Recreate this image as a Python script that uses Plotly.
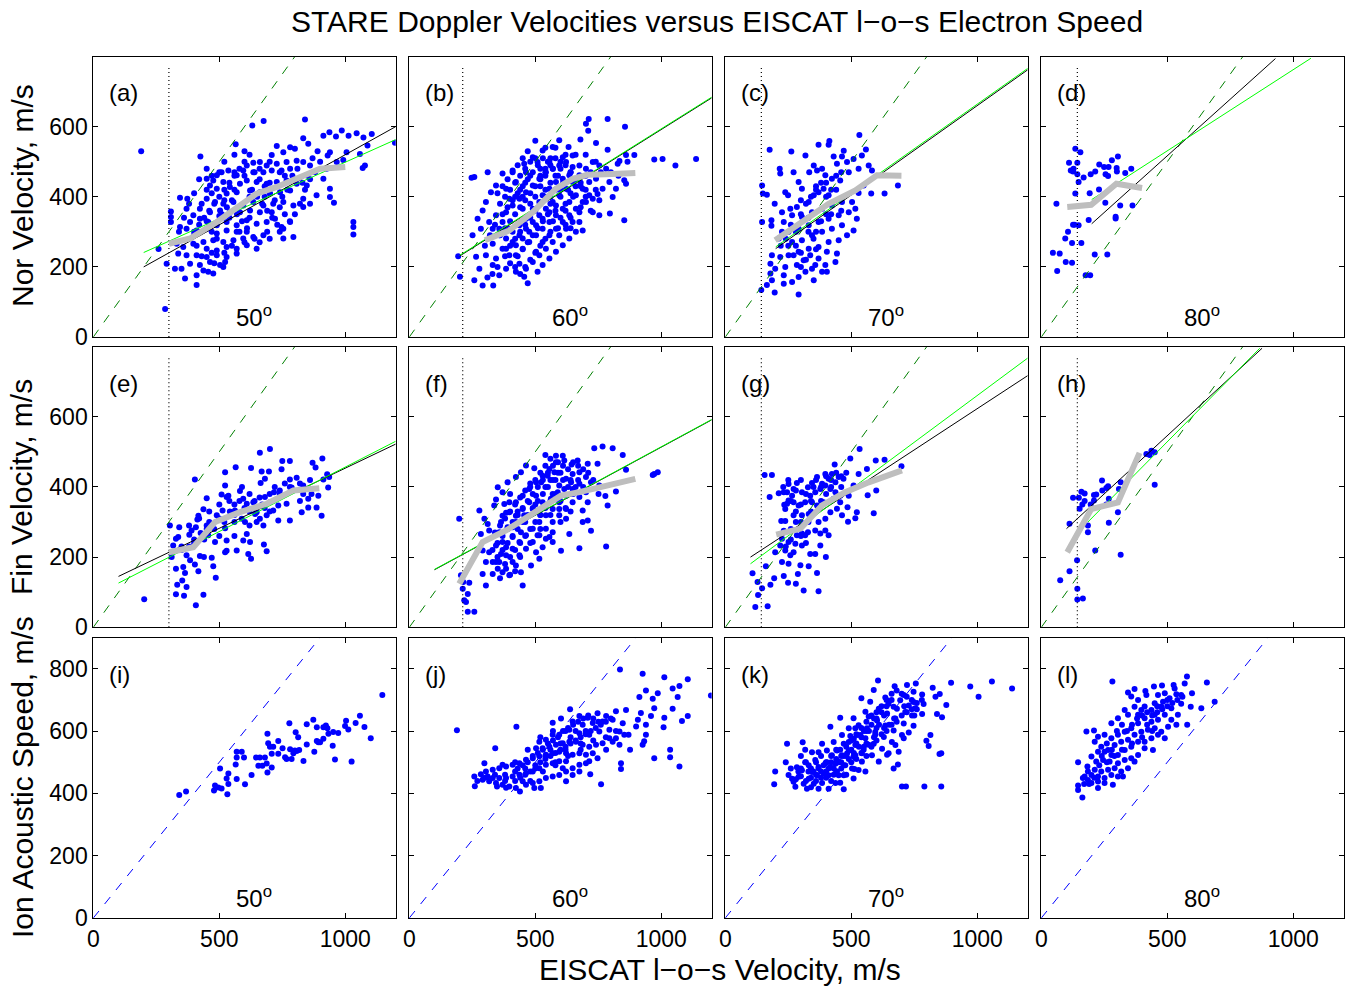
import plotly.graph_objects as go

# ---------------- data ----------------
angles = ["50", "60", "70", "80"]
labels = ["a", "b", "c", "d", "e", "f", "g", "h", "i", "j", "k", "l"]
v_threshold = [300, 212, 143, 143]   # dotted vertical lines per column

pts_a = [(190,530),(285,80),(1197,554),(840,620),(631,603),(676,616),(565,550),(425,515),(1032,328),(1032,314),(1032,292),
 (410,148),(259,251),(291,209),(308,358),(308,342),(308,328),(344,397),(373,394),
 (913,574),(937,584),(963,572),(986,589),(1013,574),(1045,581),(1072,569),(1105,579),(1088,546),(1058,522),(1078,489),(1069,482),
 (1005,527),(992,505),(966,499),(939,527),(930,518),(926,480),(913,451),(939,423),(939,399),(955,383),(886,404),(860,380),(833,394),
 (853,551),(833,567),(800,537),(781,541),(754,527),(728,545),(708,519),
 (609,489),(635,497),(661,499),(688,489),(728,494),(767,499),(807,503),(833,499),(860,489),(781,480),(747,475),(708,475),(675,470),
 (635,470),(595,475),(569,461),(536,475),(509,470),(490,461),
 (516,442),(542,428),(582,437),(609,446),(648,442),(688,437),(728,442),(767,446),(807,437),(847,432),(781,418),(741,413),(701,409),
 (661,413),(622,418),(569,413),(529,409),(490,423),(463,432),(450,451),(476,446),
 (450,394),(483,385),(516,380),(556,385),(595,375),(635,385),(675,375),(714,380),(754,385),(794,375),(833,371),(708,356),(661,356),
 (622,361),(582,356),(542,356),(503,361),(463,356),(423,366),(397,347),(370,366),
 (384,328),(423,337),(456,328),(490,319),(529,328),(569,319),(609,333),(648,323),(688,328),(721,337),(754,309),(781,328),(609,300),
 (569,300),(529,304),(490,295),(450,309),(410,304),(370,309),(344,314),
 (331,266),(357,257),(397,266),(437,271),(476,276),(516,271),(556,276),(595,281),(635,285),(675,290),(747,314),(794,285),(450,252),
 (490,247),(529,257),(569,252),(609,262),(648,252),(754,281),
 (337,238),(370,233),(410,233),(450,228),(490,233),(529,228),(569,238),(384,209),(423,205),(463,214),(503,205),(523,214),(324,195),
 (350,195),(364,167),(437,190),(456,186),(476,181),(516,200),(410,176),
 (560,420),(600,460),(620,400),(700,440),(740,470),(680,400),(520,390),(470,410),(560,470),(660,480),(700,500),(760,460),(580,300),
 (540,340),(620,340),(500,345),(450,420),(420,300),(400,290),(470,240),(640,280),(690,300),
 (400,300),(420,320),(440,340),(460,360),(480,380),(500,400),(520,420),(540,440),(560,460),(580,480),(600,500),(620,520),(640,470),
 (660,450),(680,430),(700,410),(720,390),(740,370),(760,350),(780,330),(800,350),(820,380),(840,420),(860,450),(880,470),(900,500),
 (430,380),(450,330),(470,300),(490,280),(510,350),(530,370),(550,390),(570,350),(590,330),(610,310),(630,420),(650,400),(670,380),
 (690,360),(710,340),(730,320),(750,400),(770,420),(790,460),(810,480),(830,440),(850,460),(870,510),(890,530),(410,260),(430,230),
 (480,210),(520,240),(550,260),(600,270),(660,270),(700,280),(740,300),(520,500),(560,520),(600,530),(470,460),(500,470),(450,480),
 (420,450),(400,410),(380,380),(360,340),(340,300)]

pts_b = [(194,230),(201,172),(247,454),(258,456),
 (712,622),(787,622),(701,608),(710,588),(856,600),(679,563),(741,553),(787,534),(860,519),(893,519),(972,506),(1005,508),(1056,489),
 (1138,508),(866,500),(834,502),(827,494),(853,447),(860,437),(807,399),(796,352),(853,333),(754,390),(747,408),
 (311,470),(370,466),(410,475),(456,494),(490,513),(529,532),(569,542),(595,561),(632,542),(648,518),(609,513),(556,499),(509,499),
 (463,470),(423,442),(384,423),(344,432),(324,413),(304,385),(291,361),(271,337),(284,309),(251,290),(265,229),(278,195),(258,162),
 (291,147),(333,147),(357,176),(331,205),(304,233),(344,224),(384,195),(423,186),(456,172),(470,153),(437,209),(397,233),(370,252),
 (331,266),(357,290),
 (384,356),(410,375),(437,394),(463,413),(490,432),(516,451),(542,470),(569,480),(595,489),(622,499),(648,485),(675,489),(701,480),
 (728,499),(754,489),(781,480),(675,461),(648,442),(622,423),(595,404),(569,385),(542,366),(516,347),(490,328),(463,309),(437,290),
 (410,271),(384,252),(423,233),(450,252),(476,271),(503,290),(529,309),(556,328),(582,347),(609,366),(635,385),(661,404),(688,423),
 (714,442),(741,451),(701,385),(675,356),(648,328),(622,309),(595,290),(569,271),(542,252),(516,233),(490,214),(463,195),(503,243),
 (529,271),(556,290),(582,309),(609,328),(635,347),(661,366),(688,385),(714,404),(582,375),(556,356),(529,337),(503,319),(476,300),
 (450,281),(423,262),(397,309),(370,328),(344,347),(317,328),(331,309),(397,394),(450,366),(476,347),(529,404),(556,423),(582,442),
 (609,451),(635,461),(516,385),(490,366),(463,337),(437,319),(410,300),(384,281),(357,309),(675,328),(688,304),(661,300),(635,281),
 (609,262),(582,243),(556,224),(529,205),(509,186),(728,356),(754,347),(767,423),(794,442),(820,423),(728,394),
 (600,420),(620,440),(640,410),(560,400),(580,460),(520,430),(540,480),(500,400),(480,380),(460,440),(440,420),(420,400),(640,470),
 (660,430),(700,460),(620,380),(560,510),(520,460),(480,460),(450,400),(600,480),(680,440),(720,470),(540,420),
 (360,290),(380,310),(400,330),(420,350),(440,370),(460,390),(480,410),(500,430),(520,450),(540,470),(560,490),(580,510),(600,500),
 (620,490),(640,470),(660,450),(680,430),(700,420),(370,350),(390,370),(410,390),(430,410),(450,430),(470,450),(490,470),(510,490),
 (530,510),(550,500),(570,480),(590,460),(610,440),(630,420),(650,400),(360,380),(380,400),(400,420),(420,440),(440,460),(460,480),
 (480,500),(500,510),(520,480),(540,460),(560,440),(580,420),(600,400),(620,360),(640,340),(400,260),(420,280),(440,300),(460,320),
 (480,340),(500,360),(520,380),(540,400),(560,380),(580,360),(600,340),(620,320),(640,310),(430,230),(450,250),(470,270),(490,290),
 (510,310),(530,330),(550,350),(570,330),(590,310),(560,300),(540,280),(520,260),(500,240),(480,220),(460,200),(440,180),(420,200),
 (400,210),(380,230),(350,200),(330,180),(310,170),(300,260),(320,290),(340,320),(350,410),(370,430),(390,450),(410,470),(430,490),
 (450,510),(470,530),(500,560),(540,540),(580,540),(620,520),(660,520),(700,520),(740,500),(760,470),(800,470),(830,460),(700,400),
 (740,420),(680,370),(720,360)]

pts_c = [(143,134),(196,127),(291,121),(146,328),(183,333),(183,317),(146,432),(149,409),(165,406),(176,534),(216,480),(218,466),
 (262,529),(196,380),(238,413),(249,404),(271,470),(291,442),(304,423),(318,518),(333,470),(351,489),(370,548),(413,559),(410,548),
 (430,515),(463,515),(470,531),(532,576),(558,535),(542,518),(509,508),(483,499),(443,494),(384,480),(364,475),(397,461),(423,451),
 (456,446),(490,470),(529,480),(569,489),(582,475),(549,432),(579,409),(529,411),(632,409),(685,432),(370,413),(390,423),(410,404),
 (351,404),(331,385),(284,371),(258,366),(225,356),(265,347),(304,342),(344,356),(384,366),(423,375),(463,385),(503,385),(516,366),
 (490,356),(450,347),(410,337),(370,328),(331,319),(291,309),(251,300),(232,328),(225,300),(212,281),(265,271),(304,276),(344,290),
 (384,300),(423,309),(463,319),(483,290),(509,304),(522,337),(450,276),(410,271),(370,257),(331,252),(291,243),(251,233),(218,228),
 (185,233),(179,209),(198,195),(179,181),(185,162),(165,148),(232,176),(238,200),(271,233),(284,205),(311,219),(337,233),(370,224),
 (397,205),(437,214),(443,238),(403,243),(357,205),(384,186),(344,195),(318,186),(291,171),(265,157),(232,152),(351,162),(403,186),
 (360,430),(400,440),(330,300),(300,390),(440,420),(280,260),(360,250),(420,350),(460,360),(250,260),(300,200),(350,280),
 (300,350),(320,380),(340,400),(360,420),(380,440),(400,400),(420,420),(440,460),(460,470),(330,340),(280,300),(260,320),(240,280),
 (220,260),(300,240),(320,220),(360,300),(380,330),(400,350),(420,380)]

pts_d = [(60,380),(46,240),(73,238),(63,188),(97,214),(122,212),(95,281),(106,300),(122,268),(126,320),(132,320),(148,319),(159,268),
 (135,409),(148,442),(135,537),(155,527),(110,497),(117,475),(128,480),(143,497),(143,464),(126,472),(168,455),(176,176),(194,176),
 (188,334),(212,235),(262,235),(192,410),(229,421),(254,383),(295,343),(295,338),(313,375),(362,375),(196,464),(214,472),(230,492),
 (249,485),(267,485),(255,464),(265,459),(280,504),(299,482),(304,515),(300,472),(333,468),(357,480)]

pts_e = [(202,80),(407,63),(437,93),(328,94),(360,90),(333,121),(370,115),(353,133),(364,155),(328,167),(357,172),(403,179),(417,160),
 (486,141),(476,174),(470,198),(439,200),(423,203),(384,191),(370,205),(311,200),(317,233),(304,290),(341,285),(328,252),(337,257),
 (381,264),(390,276),(407,285),(413,307),(437,336),(450,368),(403,421),(417,318),(426,269),(456,262),(483,243),(450,290),(490,319),
 (523,282),(529,247),(523,214),(529,218),(569,219),(560,260),(595,247),(615,209),(626,195),(622,243),(565,456),(626,454),(523,442),
 (523,404),(509,378),(536,375),(529,371),(542,330),(513,333),(562,333),(582,388),(595,366),(609,352),(635,356),(642,323),(648,300),
 (661,309),(675,290),(688,319),(701,356),(717,385),(681,371),(664,411),(668,444),(681,423),(697,444),(661,497),(701,508),(750,474),
 (780,474),(747,450),(780,421),(807,426),(787,398),(767,352),(734,347),(714,333),(734,304),(780,304),(827,328),(853,341),(870,469),
 (882,455),(913,421),(928,436),(936,428),(909,481),(932,398),(906,318),(886,341),(866,380),(893,375),(853,366),(833,404),(833,380),
 (677,236),(688,217),(609,266),(602,300),(589,309),(648,328),
 (560,300),(600,340),(640,360),(700,330),(740,380),(620,290),(480,280),(520,300),(440,250),(380,230),(560,350),(670,350),(720,400),
 (760,410),(820,360),(350,230),(400,250),(460,300),(500,260),(590,400),
 (500,350),(540,360),(580,360),(620,380),(660,370),(700,380),(740,390),(780,400),(820,410),(860,420),(460,330),(420,310),(380,290),
 (560,320),(620,330),(680,340),(500,310),(450,280),(400,240),(350,220)]

pts_f = [(198,309),(205,148),(212,110),(218,77),(232,44),(258,44),(232,95),(238,127),(214,129),(225,72),
 (734,510),(767,515),(807,510),(847,491),(860,449),(966,434),(986,442),(972,437),(781,230),(751,380),(787,347),(820,387),(778,374),
 (754,404),
 (540,491),(582,489),(609,489),(615,475),(644,464),(668,475),(708,466),(747,466),(496,453),(463,461),(443,442),(390,413),(423,428),
 (351,399),(370,385),(344,364),(337,347),(278,333),(298,309),(311,294),(284,266),(317,276),(291,219),(304,186),(291,152),(304,119),
 (331,152),(344,186),(364,209),(384,228),(410,257),(370,243),(357,271),(390,285),(423,300),(456,319),(490,337),(529,356),(569,380),
 (595,404),(622,423),(648,437),(675,442),(701,428),(721,413),(675,409),(648,394),(622,375),(595,356),(569,337),(542,319),(516,300),
 (490,281),(463,262),(437,243),(410,224),(384,205),(357,186),(384,167),(410,186),(437,205),(463,224),(490,243),(516,262),(542,281),
 (569,300),(595,319),(622,337),(648,356),(675,371),(701,385),(708,356),(688,333),(708,304),(721,275),(688,300),(635,266),(675,225),
 (602,218),(569,243),(556,257),(529,228),(516,195),(503,214),(483,176),(450,119),(443,157),(423,176),(397,148),(370,157),(351,167),
 (331,186),(317,214),(344,233),(423,356),(450,375),(476,394),(503,413),(529,432),(556,451),(582,470),(503,375),(476,356),(450,337),
 (423,318),(397,328),(370,318),(523,413),(549,432),(576,442),(562,366),(589,385),(615,394),(642,413),(595,337),(622,309),(569,271),
 (542,252),(509,262),(443,271),(410,285),(364,300),(384,326),(397,356),(377,351),
 (480,400),(500,350),(540,400),(560,420),(460,300),(430,330),(400,380),(520,320),(580,420),(640,420),(660,400),(600,440),
 (330,220),(350,240),(370,260),(390,280),(410,300),(430,320),(450,340),(470,360),(490,380),(510,400),(530,420),(550,440),(570,460),
 (590,470),(610,460),(630,450),(650,470),(670,460),(690,450),(340,270),(360,290),(380,310),(400,330),(420,350),(440,370),(460,390),
 (480,410),(500,420),(520,440),(540,460),(560,480),(350,200),(370,220),(390,240),(410,260),(430,280),(450,300),(470,320),(490,340),
 (510,360),(530,380),(550,400),(570,420),(590,440),(610,420),(630,400),(650,380),(670,420),(690,400),(710,440),(730,420),(380,180),
 (400,200),(420,220),(440,240),(460,260),(480,280),(500,300),(520,320),(540,340),(560,360),(580,380),(600,360),(620,340),(640,330),
 (600,300),(560,320),(520,280),(480,240),(440,200),(420,160),(400,150),(360,140)]

pts_g = [(119,58),(168,60),(130,92),(146,111),(128,129),(108,154),(161,174),(179,121),(194,140),(232,146),(249,127),(280,124),
 (311,105),(370,103),(364,155),(331,174),(298,177),(288,152),(251,181),(225,186),(258,205),(271,214),(238,219),(198,214),(218,233),
 (225,252),(251,243),(278,238),(304,233),(317,262),(337,209),(357,209),(377,233),(399,200),(357,276),(328,271),(304,267),(284,262),
 (232,275),(222,303),(238,303),(271,319),(304,319),(331,323),(370,300),(397,276),(410,262),(377,267),(397,309),(417,328),(443,338),
 (463,319),(487,301),(516,311),(522,328),(589,325),(485,342),(456,356),(430,366),(390,356),(364,347),(344,356),(317,356),(291,347),
 (271,356),(245,352),(238,337),(265,375),(245,385),(271,394),(251,408),(284,411),(304,385),(328,399),(337,375),(357,385),(377,394),
 (397,404),(417,394),(437,385),(456,375),(490,375),(509,404),(437,413),(410,423),(384,409),(364,428),(344,411),(397,437),(423,437),
 (434,464),(450,428),(469,423),(496,481),(533,508),(529,437),(562,451),(597,475),(632,477),(599,390),(565,376),(699,459),(156,434),
 (185,434),(176,371),(212,382),(232,385),(234,349),(251,361),
 (300,300),(340,330),(380,360),(420,400),(260,280),(320,240),(280,330),(350,400),(400,380),(460,400),
 (320,380),(360,420),(400,430),(440,440),(480,440),(300,350),(340,360),(380,400),(420,420),(460,430),(280,300),(260,250),(240,230),
 (300,260),(330,300),(280,390),(250,420),(230,400),(260,360),(300,420)]

pts_h = [(75,134),(112,160),(142,191),(143,110),(143,79),(165,82),(214,219),(315,207),(112,295),(185,290),(185,271),(268,298),
 (304,328),(126,369),(149,369),(159,386),(172,381),(152,338),(163,350),(172,360),(196,350),(209,361),(209,377),(218,378),(242,390),
 (258,397),(265,402),(241,418),(268,366),(258,350),(308,394),(315,413),(417,494),(430,491),(437,503),(450,499),(450,406)]

pts_i = [(341,395),(368,406),(503,480),(483,425),(479,409),(496,419),(509,416),(529,448),(536,464),(536,430),(532,397),(569,446),
 (602,429),(565,493),(569,515),(569,534),(589,534),(598,515),(628,459),(646,515),(661,515),(681,515),(655,489),(671,489),(688,496),
 (691,467),(708,483),(708,527),(701,550),(694,561),(691,591),(714,550),(734,568),(734,527),(751,545),(761,516),(767,510),(781,542),
 (787,510),(794,529),(800,538),(807,536),(817,539),(778,625),(803,596),(813,580),(834,504),(847,557),(847,622),(877,534),(887,568),
 (893,564),(900,564),(873,636),(887,612),(913,612),(923,618),(929,609),(933,591),(913,575),(950,553),(952,597),(972,594),(959,509),
 (999,616),(1012,605),(1003,633),(1025,502),(1041,626),(1058,649),(1076,613),(1101,577),(1147,716)]

pts_j = [(189,603),(425,614),(341,545),(836,798),(926,784),(1012,773),(1105,766),(1197,714),(1072,745),(1045,737),(986,721),(939,730),
 (913,709),(966,704),(972,673),(919,658),(959,648),(1012,643),(1045,672),(1065,709),(1105,648),(1082,632),(1009,612),(939,620),
 (939,588),(932,567),(926,556),(972,513),(1035,540),(1035,516),(1072,486),(876,540),(870,588),(840,497),(840,478),(761,429),(718,461),
 (860,668),(820,664),(781,648),(747,657),(708,643),(675,648),(638,670),(602,640),(569,627),(648,631),(688,620),(728,626),(767,631),
 (807,636),(847,625),(834,599),(794,604),(754,599),(714,588),(675,593),(635,604),(595,588),(569,588),(542,572),(516,566),(503,545),
 (529,545),(556,550),(582,556),(609,561),(635,566),(661,566),(688,556),(714,550),(741,556),(767,561),(807,566),(834,556),(781,540),
 (747,513),(728,529),(701,524),(675,529),(648,524),(622,529),(595,534),(569,529),(542,524),(516,519),(490,513),(463,508),(437,497),
 (410,492),(384,486),(357,481),(331,476),(304,470),(284,461),(258,454),(291,444),(317,439),(344,433),(370,428),(397,422),(423,417),
 (439,406),(463,428),(490,433),(516,439),(542,449),(569,454),(595,459),(622,470),(648,481),(675,492),(701,497),(569,497),(542,492),
 (516,481),(490,470),(463,465),(437,460),(410,454),(384,449),(357,449),(331,449),(311,454),(522,417),(496,417),(450,439),(384,418),
 (348,422),(298,497),(370,492),(260,423),(622,439),(595,503),(622,503),(609,481),(648,459),(675,470),(714,503),(794,577),(820,577),
 (853,588),(900,615),(907,636),
 (560,540),(600,560),(640,580),(580,500),(620,540),(660,600),(700,600),(540,520),(500,490),(460,480),(420,470),(380,460),(680,560),
 (420,440),(440,450),(460,460),(480,470),(500,480),(520,500),(540,510),(560,520),(580,530),(600,540),(620,550),(640,560),(660,570),
 (680,580),(700,590),(720,600),(740,610),(760,620),(780,630),(800,640),(450,490),(470,500),(490,520),(510,530),(530,540),(550,560),
 (570,570),(590,580),(610,600),(630,610),(650,620),(670,630),(690,640),(710,650),(730,640),(750,630),(430,480),(480,440),(530,470),
 (580,490),(630,520),(680,540),(730,570),(780,580),(820,600),(620,600),(570,600),(520,580),(470,540),(420,500),(380,440),(340,460),
 (300,450),(270,440)]

pts_k = [(606,762),(672,744),(756,753),(823,739),(896,755),(972,743),(1005,710),(1058,759),(1138,737),(701,422),(717,422),(790,422),
 (857,422),(857,529),(850,526),(807,552),(798,569),(814,587),(840,655),(860,644),(877,684),(834,710),(851,719),(787,687),(754,673),
 (781,655),(668,480),(685,493),(688,534),(648,529),(512,478),(529,475),(470,413),(456,434),(198,470),(194,429),(245,559),(307,564),
 (317,540),(417,614),(456,643),(540,705),(589,732),(635,708),(668,678),(721,748),(708,716),(747,726),(781,717),(747,617),(728,595),
 (251,459),(271,437),(278,421),(291,453),(311,431),(324,415),(331,447),(344,469),(351,431),(364,458),(370,485),(384,433),(390,464),
 (397,496),(410,458),(417,485),(423,522),(437,433),(443,470),(450,502),(456,540),(470,458),(476,490),(483,528),(490,565),(503,480),
 (509,518),(516,555),(523,587),(529,619),(542,502),(549,540),(556,577),(562,609),(569,647),(582,522),(589,559),(595,597),(602,634),
 (609,672),(622,543),(629,581),(635,618),(642,656),(648,688),(661,565),(668,602),(675,640),(681,672),(694,699),(708,624),(714,661),
 (728,682),(741,650),(747,693),(701,587),(357,507),(331,490),(304,474),(284,484),(265,447),(403,538),(430,565),(463,587),(490,609),
 (509,641),(556,662),(575,694),(370,532),(384,559),(344,532),(317,500),(410,415),(370,415),(450,458),(509,448),(556,470),(609,502),
 (642,524),(675,555),(708,577),(542,529),(569,556),(595,588),(516,609),(536,587),(470,559),(496,584),(443,538),(403,500),(437,495),
 (463,522),(490,538),(516,522),
 (430,480),(460,500),(480,520),(500,540),(520,560),(540,580),(560,600),(580,620),(600,640),(620,660),(640,680),(660,700),(400,470),
 (380,450),(360,440),(340,450),(470,520),(510,575),(550,600),(590,640),(630,650),(420,500),(440,510),(560,560),(600,610),(650,620),
 (280,445),(300,455),(320,440),(340,420),(360,460),(380,470),(400,450),(420,440),(440,470),(460,480),(480,460),(500,500),(520,510),
 (540,530),(560,520),(580,550),(600,570),(620,590),(640,600),(660,620),(680,630),(700,650),(720,660),(740,670),(760,690),(780,700),
 (300,480),(320,500),(340,480),(360,500),(380,520),(400,500),(420,520),(440,540),(460,520),(480,550),(500,570),(520,590),(540,610),
 (560,630),(580,650),(600,660),(620,680),(640,700),(660,720),(680,730),(700,720),(720,710),(740,700),(760,670),(350,470),(390,490),
 (430,460),(470,490),(510,530),(550,550),(590,580),(630,610),(670,640),(710,680),(750,650),(610,620),(570,600),(530,550),(490,510),
 (450,500),(410,480),(370,480),(330,470),(290,470),(260,480),(240,500),(300,520)]

pts_l = [(282,759),(578,775),(657,756),(688,694),(635,673),(579,620),(536,620),(146,425),(146,411),(163,387),(146,500),(179,599),
 (209,602),(278,625),(344,724),(370,735),(413,729),(447,743),(479,746),(525,748),(569,753),(598,721),(593,678),(555,688),(536,718),
 (509,705),(483,694),(450,689),(417,716),(384,700),(357,711),(370,678),(331,668),(304,641),(344,652),(397,668),(437,668),(476,678),
 (516,673),(542,652),(516,636),(490,652),(463,636),(437,630),(410,641),(384,625),(357,609),(331,598),(304,588),(278,577),(251,588),
 (225,582),(212,566),(238,550),(265,539),(291,555),(317,566),(344,572),(370,588),(397,598),(423,604),(450,609),(476,598),(503,614),
 (490,577),(463,588),(437,577),(410,566),(384,566),(357,550),(331,539),(304,523),(278,523),(251,534),(225,534),(199,518),(218,502),
 (245,507),(271,502),(304,497),(331,507),(357,513),(384,523),(410,545),(443,539),(370,502),(344,481),(317,470),(291,481),(265,476),
 (238,470),(212,476),(185,470),(172,454),(185,443),(199,459),(225,454),(251,449),(278,459),(304,454),(225,438),(251,433),(284,428),
 (225,417),(199,433),(165,449),(183,486),(324,454),(450,652),(555,716),(529,737),(490,721),(463,716),(384,652),(410,679),
 (240,520),(260,560),(280,540),(300,600),(320,620),(340,600),(360,620),(380,640),(400,650),(420,660),(440,650),(460,660),(480,670),
 (500,680),(520,690),(540,700),(560,710),(420,620),(440,600),(460,680),(500,700),(400,580),(360,560),(320,540),(290,520),(260,500),
 (230,490),(210,450),(190,430),(170,430)]

scatter_pts = [pts_a, pts_b, pts_c, pts_d, pts_e, pts_f, pts_g, pts_h, pts_i, pts_j, pts_k, pts_l]

# linear fits (black and green) for panels a-h: (x0, x1), (y0, y1)
fit_black = {
    "a": ([200, 1200], [200, 600]), "b": ([200, 1200], [231, 682]),
    "c": ([200, 1200], [252, 762]), "d": ([200, 929], [323, 794]),
    "e": ([100, 1200], [145, 522]), "f": ([100, 1200], [164, 591]),
    "g": ([100, 1200], [200, 717]), "h": ([100, 876], [281, 795]),
}
fit_green = {
    "a": ([200, 1200], [241, 563]), "b": ([200, 1200], [233, 684]),
    "c": ([200, 1200], [257, 766]), "d": ([200, 1070], [392, 795]),
    "e": ([100, 1200], [126, 530]), "f": ([100, 1200], [165, 592]),
    "g": ([100, 1200], [181, 767]), "h": ([185, 867], [300, 795]),
}
# binned medians (thick gray)
gray_x = {
    "a": [300, 384, 490, 569, 648, 728, 807, 900, 1000],
    "b": [300, 397, 490, 582, 648, 708, 781, 897],
    "c": [198, 304, 410, 516, 602, 699],
    "d": [103, 198, 298, 400],
    "e": [300, 397, 483, 582, 688, 794, 897],
    "f": [198, 291, 384, 490, 602, 675, 781, 897],
    "g": [202, 298, 384, 476, 569, 701],
    "h": [103, 198, 304, 390],
}
gray_y = {
    "a": [266, 281, 328, 371, 409, 428, 451, 480, 485],
    "b": [276, 304, 356, 423, 451, 463, 464, 468],
    "c": [276, 328, 380, 418, 461, 460],
    "d": [371, 377, 437, 425],
    "e": [214, 228, 300, 328, 352, 390, 396],
    "f": [124, 243, 276, 323, 375, 385, 404, 423],
    "g": [264, 281, 347, 385, 413, 447],
    "h": [214, 337, 356, 497],
}

title = "STARE Doppler Velocities versus EISCAT l\u2212o\u2212s Electron Speed"
xtitle = "EISCAT l\u2212o\u2212s Velocity, m/s"
ytitles = ["Nor Velocity, m/s", "Fin Velocity, m/s", "Ion Acoustic Speed, m/s"]

# ---------------- layout geometry ----------------
W, H = 1346, 987
col_left = [93.3, 409.3, 725.3, 1041.3]
col_w = 302.4
row_top = [56.5, 346.5, 637.6]
row_bot = [337.0, 627.3, 918.0]
FONT = "Liberation Sans, Arial, sans-serif"
TICK_SIZE = 23
LABEL_SIZE = 24
TITLE_SIZE = 30

fig = go.Figure()
layout = dict(width=W, height=H, margin=dict(l=0, r=0, t=0, b=0, pad=0, autoexpand=False),
              paper_bgcolor="white", plot_bgcolor="white", showlegend=False,
              font=dict(family=FONT, color="black"))
annotations = []

for idx in range(12):
    r, c = divmod(idx, 4)
    n = idx + 1
    xa = "x" if n == 1 else f"x{n}"
    ya = "y" if n == 1 else f"y{n}"
    xkey = "xaxis" if n == 1 else f"xaxis{n}"
    ykey = "yaxis" if n == 1 else f"yaxis{n}"
    ymax = 900 if r == 2 else 800
    yt = [0, 200, 400, 600, 800] if r == 2 else [0, 200, 400, 600]
    layout[xkey] = dict(domain=[col_left[c] / W, (col_left[c] + col_w) / W], anchor=ya,
                        range=[0, 1200], tickvals=[0, 500, 1000], showticklabels=(r == 2),
                        ticks="inside", ticklen=5, tickcolor="black", showline=True, linecolor="black",
                        linewidth=1, mirror="ticks", showgrid=False, zeroline=False, automargin=False,
                        tickfont=dict(size=TICK_SIZE, family=FONT, color="black"))
    layout[ykey] = dict(domain=[1 - row_bot[r] / H, 1 - row_top[r] / H], anchor=xa,
                        range=[0, ymax], tickvals=yt, showticklabels=(c == 0),
                        ticks="inside", ticklen=5, tickcolor="black", showline=True, linecolor="black",
                        linewidth=1, mirror="ticks", showgrid=False, zeroline=False, automargin=False,
                        tickfont=dict(size=TICK_SIZE, family=FONT, color="black"))

    lab = labels[idx]
    pts = scatter_pts[idx]
    fig.add_trace(go.Scatter(x=[p[0] for p in pts], y=[p[1] for p in pts], mode="markers",
                             marker=dict(color="#0000FF", size=6, line=dict(width=0)),
                             xaxis=xa, yaxis=ya, cliponaxis=True))
    if r < 2:
        thr = v_threshold[c]
        fig.add_trace(go.Scatter(x=[thr, thr], y=[0, 770], mode="lines",
                                 line=dict(color="black", width=1.2, dash="1px,3px"), xaxis=xa, yaxis=ya))
        fig.add_trace(go.Scatter(x=[0, 800], y=[0, 800], mode="lines",
                                 line=dict(color="#008000", width=1, dash="9px,9px"), xaxis=xa, yaxis=ya))
        bx, by = fit_black[lab]
        fig.add_trace(go.Scatter(x=bx, y=by, mode="lines", line=dict(color="black", width=1),
                                 xaxis=xa, yaxis=ya))
        gx, gy = fit_green[lab]
        fig.add_trace(go.Scatter(x=gx, y=gy, mode="lines", line=dict(color="#00FF00", width=1),
                                 xaxis=xa, yaxis=ya))
        fig.add_trace(go.Scatter(x=gray_x[lab], y=gray_y[lab], mode="lines",
                                 line=dict(color="#BEBEBE", width=6), xaxis=xa, yaxis=ya))
    else:
        fig.add_trace(go.Scatter(x=[0, 900], y=[0, 900], mode="lines",
                                 line=dict(color="#0000FF", width=1, dash="9px,9px"), xaxis=xa, yaxis=ya))

    dref_x = "x domain" if n == 1 else f"x{n} domain"
    dref_y = "y domain" if n == 1 else f"y{n} domain"
    annotations.append(dict(text=f"({lab})", xref=dref_x, yref=dref_y, x=0.045, y=0.87,
                            xanchor="left", yanchor="middle", showarrow=False,
                            font=dict(size=LABEL_SIZE, family=FONT, color="black")))
    if r != 1:
        annotations.append(dict(text=f"{angles[c]}<sup>o</sup>", xref=dref_x, yref=dref_y,
                                x=0.53, y=0.075, xanchor="center", yanchor="middle", showarrow=False,
                                font=dict(size=LABEL_SIZE, family=FONT, color="black")))

annotations.append(dict(text=title, xref="paper", yref="paper", x=717 / W, y=1 - 22 / H,
                        xanchor="center", yanchor="middle", showarrow=False,
                        font=dict(size=TITLE_SIZE, family=FONT, color="black")))
annotations.append(dict(text=xtitle, xref="paper", yref="paper", x=720 / W, y=1 - 969 / H,
                        xanchor="center", yanchor="middle", showarrow=False,
                        font=dict(size=TITLE_SIZE, family=FONT, color="black")))
for r, (t, yc) in enumerate(zip(ytitles, [196, 487, 777])):
    annotations.append(dict(text=t, xref="paper", yref="paper", x=22 / W, y=1 - yc / H,
                            xanchor="center", yanchor="middle", textangle=-90, showarrow=False,
                            font=dict(size=TITLE_SIZE, family=FONT, color="black")))

layout["annotations"] = annotations
fig.update_layout(**layout)
# remove the page's default body margin so the figure sits at the window's top-left corner
fig.write_html("out.html", config={"displayModeBar": False, "staticPlot": True},
               post_script="document.body.style.margin='0';document.body.style.overflow='hidden';")
